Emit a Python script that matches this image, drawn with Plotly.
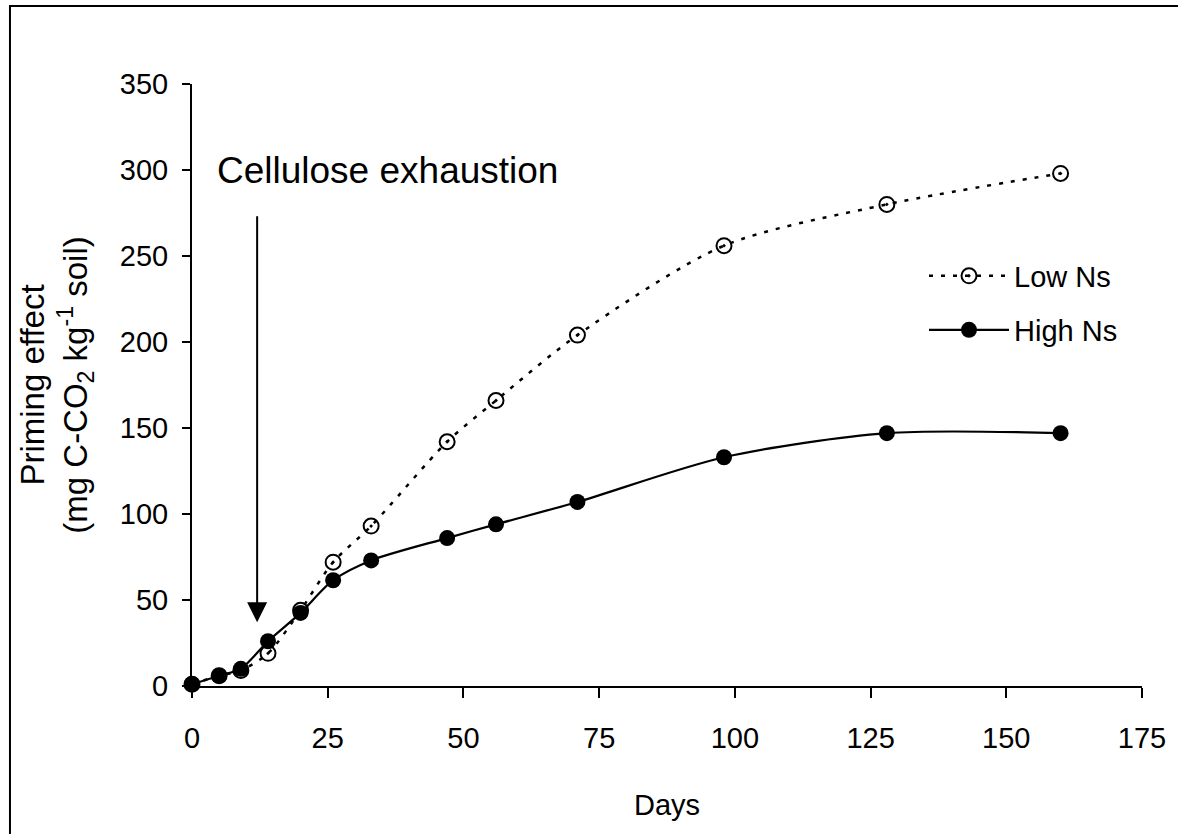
import plotly.graph_objects as go

days = [0, 5, 9, 14, 20, 26, 33, 47, 56, 71, 98, 128, 160]
low_ns = [1, 6, 9, 19, 44, 72, 93, 142, 166, 204, 256, 280, 298]
high_ns = [1, 6, 10, 26, 42.5, 61.5, 73, 86, 94, 107, 133, 147, 147]

x_ticks = [0, 25, 50, 75, 100, 125, 150, 175]
y_ticks = [0, 50, 100, 150, 200, 250, 300, 350]

FONT = "Liberation Sans, Arial, Helvetica, sans-serif"

fig = go.Figure()
fig.add_trace(go.Scatter(
    x=days, y=low_ns, name="Low Ns", mode="lines+markers",
    line=dict(color="black", width=2.5, dash="4px,8px", shape="spline", smoothing=0.8),
    marker=dict(symbol="circle-open-dot", size=15, color="black", line=dict(width=2, color="black")),
    cliponaxis=False, legend="legend",
))
fig.add_trace(go.Scatter(
    x=days, y=high_ns, name="High Ns", mode="lines+markers",
    line=dict(color="black", width=2.2, shape="spline", smoothing=0.8),
    marker=dict(symbol="circle", size=16, color="black"),
    cliponaxis=False, legend="legend2",
))

fig.add_annotation(
    x=12, y=37, ax=12, ay=274, xref="x", yref="y", axref="x", ayref="y",
    text="", showarrow=True, arrowhead=2, arrowsize=2, arrowwidth=2, arrowcolor="black",
    standoff=0, startstandoff=0,
)
fig.add_annotation(
    x=36, y=300, xref="x", yref="y", text="Cellulose exhaustion", showarrow=False,
    font=dict(size=37, color="black", family=FONT), xanchor="center", yanchor="middle",
)

# outer frame
fig.add_shape(type="rect", xref="paper", yref="paper",
              x0=-0.1916, x1=1.1, y0=-0.3, y1=1.1296,
              line=dict(color="black", width=2), fillcolor="rgba(0,0,0,0)", layer="below")

fig.update_layout(
    width=1178, height=834,
    margin=dict(l=192, r=36, t=84, b=148),
    paper_bgcolor="white", plot_bgcolor="white",
    font=dict(family=FONT, size=29, color="black"),
    showlegend=True,
    legend=dict(x=(924 - 192) / 950, y=(686 - 276) / 602, xanchor="left", yanchor="middle",
                bgcolor="rgba(0,0,0,0)", font=dict(size=29), itemwidth=80),
    legend2=dict(x=(924 - 192) / 950, y=(686 - 330) / 602, xanchor="left", yanchor="middle",
                 bgcolor="rgba(0,0,0,0)", font=dict(size=29), itemwidth=80),
    xaxis=dict(
        range=[0, 175], tickvals=x_ticks, ticktext=[str(v) for v in x_ticks],
        showgrid=False, zeroline=False, showline=True, linecolor="black", linewidth=2,
        ticks="outside", ticklen=10, tickwidth=2, tickcolor="black",
        ticklabelstandoff=15,
        title=dict(text="Days", standoff=42, font=dict(size=29)),
    ),
    yaxis=dict(
        range=[0, 350], tickvals=y_ticks, ticktext=[str(v) for v in y_ticks],
        showgrid=False, zeroline=False, showline=True, linecolor="black", linewidth=2,
        ticks="outside", ticklen=8, tickwidth=2, tickcolor="black",
        ticklabelstandoff=8,
        title=dict(text="Priming effect<br>(mg C-CO<sub>2</sub> kg<sup>-1</sup> soil)",
                   standoff=22, font=dict(size=33)),
    ),
)

fig.write_html(
    "out.html",
    config={"displayModeBar": False},
    post_script="document.body.style.margin='0px';document.body.style.overflow='hidden';",
)
